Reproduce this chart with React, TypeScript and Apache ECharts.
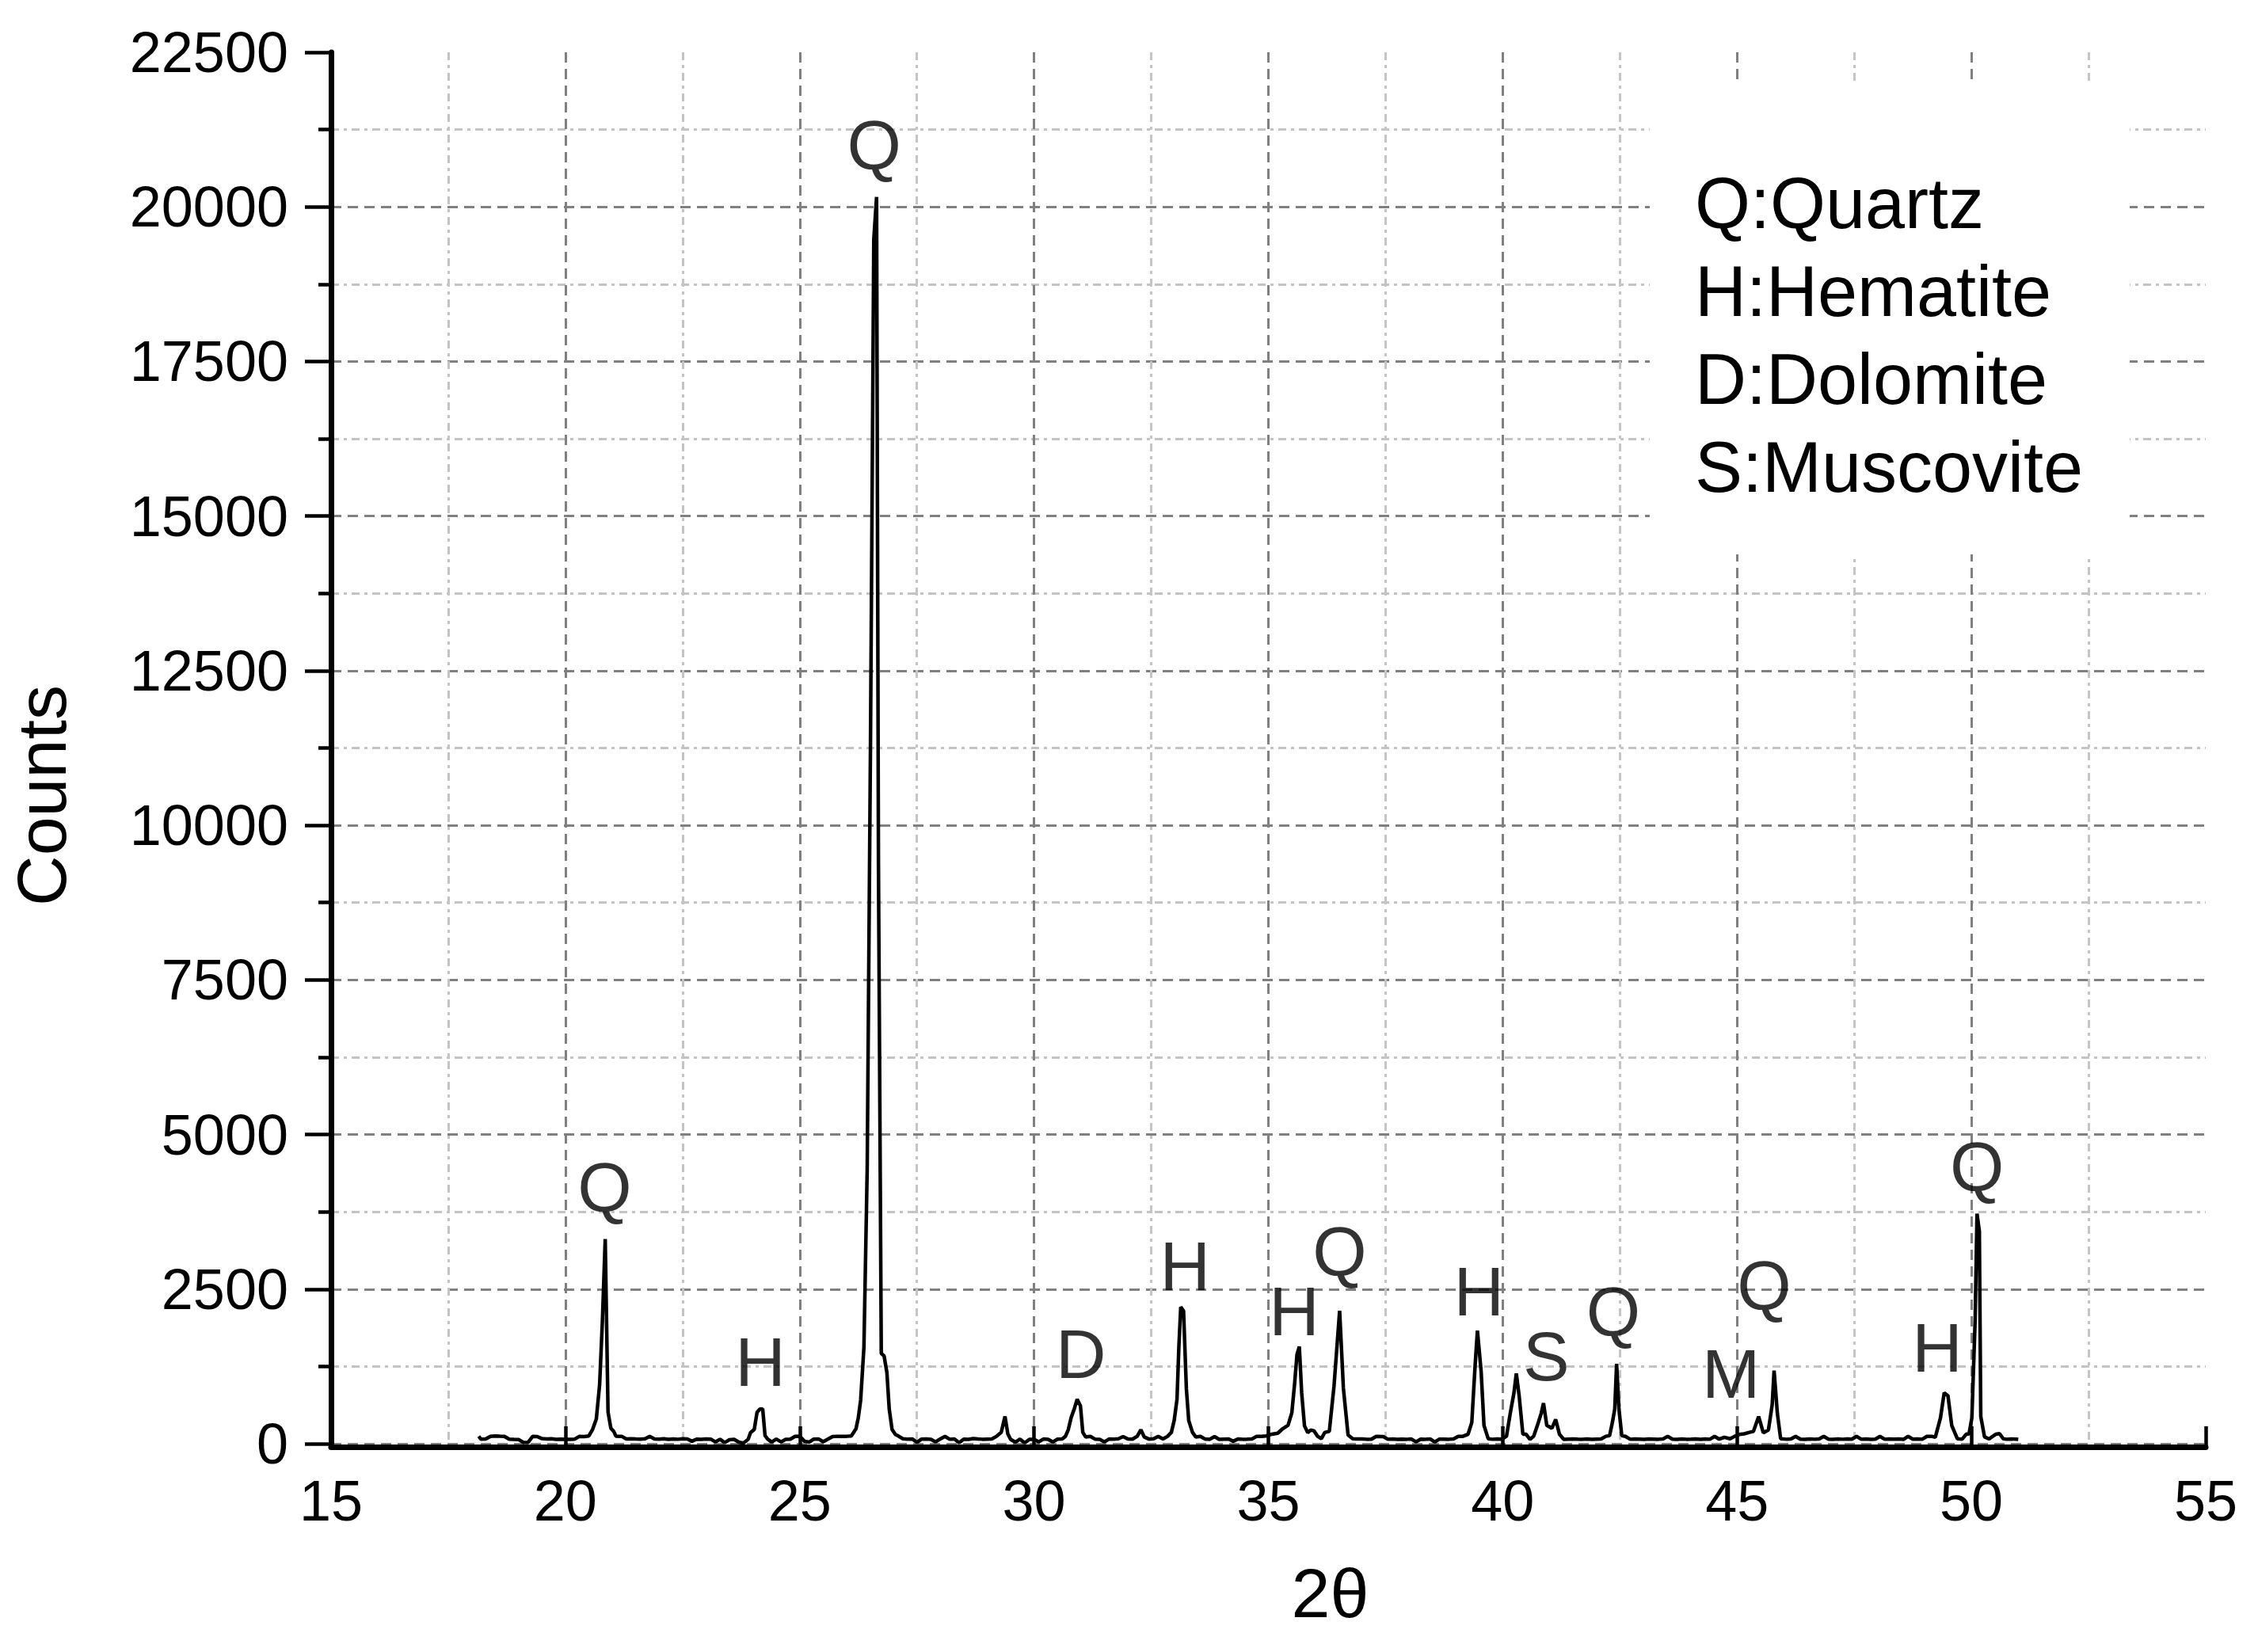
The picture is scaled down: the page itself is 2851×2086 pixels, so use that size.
import React, { useEffect, useRef } from 'react';
import * as echarts from 'echarts';

// ---- XRD scan, [2θ, counts] ----
const scan18to22: [number, number][] = [
  [18.15, 120], [18.2, 72], [18.3, 76], [18.4, 118], [18.5, 124], [18.6, 121], [18.7, 119], [18.8, 74],
  [18.9, 70], [19.0, 68], [19.1, 22], [19.2, 18], [19.3, 118], [19.4, 116], [19.5, 82], [19.6, 76],
  [19.7, 79], [19.8, 71], [19.9, 74], [20.0, 72], [20.1, 69], [20.2, 75], [20.3, 120], [20.4, 116],
  [20.5, 125], [20.58, 230], [20.66, 400], [20.73, 950], [20.79, 1990], [20.85, 3310], [20.91, 510],
  [20.97, 250], [21.03, 200], [21.08, 122], [21.15, 118], [21.2, 120], [21.3, 78], [21.4, 80], [21.5, 76],
  [21.6, 74], [21.7, 79], [21.8, 118], [21.9, 77],
];
const scan22to26: [number, number][] = [
  [22.0, 75], [22.1, 80], [22.2, 70], [22.3, 76], [22.4, 72], [22.5, 81], [22.6, 78], [22.7, 40],
  [22.8, 74], [22.9, 70], [23.0, 77], [23.1, 75], [23.2, 30], [23.3, 72], [23.4, 18], [23.5, 65],
  [23.6, 70], [23.7, 25], [23.8, 10], [23.9, 72], [23.95, 180], [24.03, 230], [24.09, 510], [24.15, 560],
  [24.21, 560], [24.26, 130], [24.32, 72], [24.4, 28], [24.5, 75], [24.6, 30], [24.7, 70], [24.8, 74],
  [24.9, 118], [25.0, 122], [25.1, 40], [25.2, 25], [25.3, 75], [25.4, 78], [25.5, 32], [25.6, 74],
  [25.7, 115], [25.8, 120], [25.9, 118],
];
const scan26to29: [number, number][] = [
  [26.0, 120], [26.1, 125], [26.2, 240], [26.25, 420], [26.3, 705], [26.37, 1560], [26.44, 4450],
  [26.51, 11340], [26.58, 19470], [26.64, 20160], [26.68, 9360], [26.74, 1460], [26.8, 1420], [26.86, 1150],
  [26.91, 560], [26.97, 230], [27.04, 150], [27.12, 118], [27.2, 80], [27.3, 75], [27.4, 78], [27.5, 22],
  [27.6, 74], [27.7, 76], [27.8, 70], [27.9, 30], [28.0, 78], [28.1, 118], [28.2, 72], [28.3, 76],
  [28.4, 15], [28.5, 74], [28.6, 70], [28.7, 82], [28.8, 76], [28.9, 72],
];
const scan29to32: [number, number][] = [
  [29.0, 75], [29.1, 78], [29.2, 120], [29.3, 185], [29.38, 440], [29.44, 160], [29.5, 70], [29.6, 25],
  [29.7, 74], [29.8, 12], [29.9, 70], [30.0, 72], [30.1, 30], [30.2, 76], [30.3, 70], [30.4, 28],
  [30.5, 74], [30.6, 78], [30.67, 120], [30.73, 226], [30.79, 418], [30.86, 568], [30.92, 717],
  [30.99, 610], [31.04, 184], [31.1, 110], [31.2, 118], [31.3, 75], [31.4, 72], [31.5, 30], [31.6, 76],
  [31.7, 74], [31.8, 80], [31.9, 115],
];
const scan32to35: [number, number][] = [
  [32.0, 78], [32.1, 74], [32.2, 120], [32.28, 226], [32.35, 110], [32.45, 75], [32.55, 80], [32.65, 118],
  [32.75, 76], [32.85, 120], [32.93, 184], [32.99, 376], [33.05, 717], [33.09, 1571], [33.13, 2212],
  [33.19, 2148], [33.25, 888], [33.3, 376], [33.38, 184], [33.45, 110], [33.55, 118], [33.65, 75],
  [33.75, 72], [33.85, 115], [33.95, 70], [34.05, 74], [34.15, 78], [34.25, 40], [34.35, 76], [34.45, 72],
  [34.55, 74], [34.65, 78], [34.75, 120], [34.85, 118],
];
const scan35to38: [number, number][] = [
  [34.95, 125], [35.05, 150], [35.2, 170], [35.3, 240], [35.42, 300], [35.5, 500], [35.56, 973],
  [35.61, 1443], [35.66, 1571], [35.71, 824], [35.77, 290], [35.84, 180], [35.9, 220], [35.97, 210],
  [36.05, 120], [36.13, 81], [36.2, 180], [36.3, 200], [36.4, 930], [36.52, 2150], [36.6, 900],
  [36.7, 140], [36.8, 80], [36.9, 76], [37.0, 78], [37.1, 72], [37.2, 74], [37.3, 118], [37.45, 115],
  [37.55, 72], [37.65, 76], [37.75, 70], [37.85, 74],
];
const scan38to42: [number, number][] = [
  [37.95, 72], [38.05, 76], [38.15, 30], [38.25, 74], [38.35, 72], [38.45, 78], [38.55, 28], [38.65, 75],
  [38.75, 74], [38.85, 72], [38.95, 76], [39.05, 118], [39.15, 120], [39.26, 153], [39.34, 345],
  [39.41, 1255], [39.46, 1830], [39.54, 1160], [39.6, 297], [39.69, 81], [39.78, 72], [39.88, 76],
  [39.98, 74], [40.08, 120], [40.16, 489], [40.24, 824], [40.29, 1135], [40.35, 776], [40.43, 153],
  [40.5, 153], [40.58, 70], [40.66, 120], [40.74, 297], [40.82, 489], [40.87, 656], [40.94, 297],
  [41.05, 250], [41.13, 393], [41.21, 153], [41.3, 72], [41.4, 75], [41.5, 78], [41.6, 74], [41.7, 72],
  [41.8, 76], [41.9, 70],
];
const scan42to46: [number, number][] = [
  [42.0, 74], [42.1, 78], [42.2, 120], [42.28, 130], [42.34, 345], [42.39, 560], [42.43, 1293],
  [42.48, 560], [42.54, 130], [42.62, 118], [42.72, 72], [42.82, 76], [42.92, 74], [43.02, 70],
  [43.12, 78], [43.22, 75], [43.32, 72], [43.42, 76], [43.52, 120], [43.62, 74], [43.72, 70], [43.82, 76],
  [43.92, 72], [44.02, 74], [44.12, 78], [44.22, 70], [44.32, 76], [44.42, 72], [44.52, 118], [44.62, 74],
  [44.73, 105], [44.85, 80], [44.95, 120], [45.05, 150], [45.15, 160], [45.25, 180], [45.35, 200],
  [45.46, 440], [45.56, 177], [45.67, 225], [45.75, 632], [45.79, 1183], [45.86, 489], [45.93, 81],
];
const scan46to51: [number, number][] = [
  [46.06, 72], [46.15, 76], [46.25, 118], [46.35, 74], [46.45, 70], [46.55, 78], [46.65, 72], [46.75, 76],
  [46.85, 118], [46.95, 74], [47.05, 70], [47.15, 76], [47.25, 72], [47.35, 78], [47.45, 74], [47.55, 120],
  [47.65, 72], [47.75, 76], [47.85, 70], [47.95, 74], [48.05, 118], [48.15, 72], [48.25, 76], [48.35, 74],
  [48.45, 78], [48.55, 70], [48.65, 120], [48.75, 74], [48.85, 76], [48.95, 72], [49.05, 118], [49.15, 120],
  [49.23, 105], [49.34, 417], [49.42, 824], [49.5, 776], [49.58, 297], [49.7, 81], [49.8, 72], [49.89, 153],
  [49.95, 160], [50.01, 417], [50.08, 2000], [50.12, 3720], [50.17, 3434], [50.2, 440], [50.28, 110],
  [50.38, 76], [50.45, 118], [50.52, 153], [50.6, 163], [50.68, 80], [50.75, 72], [50.85, 76], [50.95, 74],
  [51.0, 70],
];

// ---- peak annotations ----
const peakTags = ['Q', 'H', 'Q', 'D', 'H', 'H', 'Q', 'H', 'S', 'Q', 'M', 'Q', 'H', 'Q'];
const tagTheta = [20.84, 24.16, 26.59, 31.0, 33.22, 35.55, 36.52, 39.49, 40.93, 42.36, 44.87, 45.58, 49.27, 50.12];
const tagCounts = [4143, 1326, 20996, 1450, 2880, 2150, 3100, 2460, 1410, 2130, 1135, 2555, 1560, 4470];

// ---- phase key ----
const phaseKey = ['Q:Quartz', 'H:Hematite', 'D:Dolomite', 'S:Muscovite'];

// ---- axes ----
const xMin = 15, xMax = 55, xStep = 5;
const yMin = 0, yMax = 22500, yStep = 2500;

export default function App() {
  const ref = useRef<HTMLDivElement>(null);
  useEffect(() => {
    document.body.style.margin = '0';
    const chart = echarts.init(ref.current!, null, { renderer: 'svg' });
    const font = '"Liberation Sans", Arial, sans-serif';
    const scan = [
      ...scan18to22, ...scan22to26, ...scan26to29, ...scan29to32, ...scan32to35,
      ...scan35to38, ...scan38to42, ...scan42to46, ...scan46to51,
    ];
    const majorGrid = { show: true, showMaxLine: false, lineStyle: { color: '#808080', width: 3, type: [13, 8] } };
    const minorGrid = { show: true, lineStyle: { color: '#c4c4c4', width: 3, type: [10, 6, 4, 6] } };
    chart.setOption({
      animation: false,
      backgroundColor: '#ffffff',
      textStyle: { fontFamily: font },
      grid: { left: 417, right: 66, top: 66, bottom: 263, containLabel: false },
      xAxis: {
        type: 'value', min: xMin, max: xMax, interval: xStep,
        offset: 4,
        name: '2θ', nameLocation: 'middle', nameGap: 140,
        nameTextStyle: { fontSize: 88, color: '#000', fontFamily: font, padding: [0, 0, 0, 156] },
        axisLine: { show: true, onZero: false, lineStyle: { color: '#000', width: 7 } },
        axisTick: { show: true, inside: true, length: 26, lineStyle: { color: '#000', width: 4.5 } },
        minorTick: { show: false, splitNumber: 2 },
        axisLabel: { show: true, fontSize: 72, color: '#000', margin: 32, fontFamily: font, showMinLabel: true, showMaxLabel: true },
        splitLine: majorGrid,
        minorSplitLine: minorGrid,
      },
      yAxis: {
        type: 'value', min: yMin, max: yMax, interval: yStep,
        name: 'Counts', nameLocation: 'middle', nameGap: 322, nameRotate: 90,
        nameTextStyle: { fontSize: 88, color: '#000', fontFamily: font, padding: [0, 120, 0, 0] },
        axisLine: { show: true, onZero: false, lineStyle: { color: '#000', width: 7 } },
        axisTick: { show: true, inside: false, length: 33, lineStyle: { color: '#000', width: 4.5 } },
        minorTick: { show: true, splitNumber: 2, length: 16, lineStyle: { color: '#000', width: 4.5 } },
        axisLabel: {
          show: true, fontSize: 72, color: '#000', margin: 54, fontFamily: font,
          formatter: (v: number) => String(v),
        },
        splitLine: { ...majorGrid, showMinLine: true },
        minorSplitLine: minorGrid,
      },
      graphic: [
        {
          type: 'rect', z: 100, zlevel: 0,
          shape: { x: 2083, y: 108, width: 606, height: 592 },
          style: { fill: '#ffffff', stroke: 'none' },
        },
        ...phaseKey.map((t, i) => ({
          type: 'text', z: 101, x: 2140, y: 257 + i * 111,
          style: { text: t, font: `90px ${font}`, fill: '#000', verticalAlign: 'middle' },
        })),
      ],
      series: [
        {
          type: 'line', data: scan, showSymbol: false, symbol: 'none',
          lineStyle: { color: '#000', width: 4.5 }, z: 3, clip: true,
        },
        {
          type: 'scatter', symbolSize: 1, z: 4,
          itemStyle: { color: 'rgba(0,0,0,0)' },
          data: tagTheta.map((x, i) => ({ name: peakTags[i], value: [x, tagCounts[i]] })),
          label: {
            show: true, position: 'inside', formatter: '{b}', fontSize: 88, color: '#000',
            fontFamily: font, align: 'center', verticalAlign: 'middle',
          },
        },
      ],
    });
    return () => chart.dispose();
  }, []);
  return <div ref={ref} style={{ width: 2851, height: 2086 }} />;
}
